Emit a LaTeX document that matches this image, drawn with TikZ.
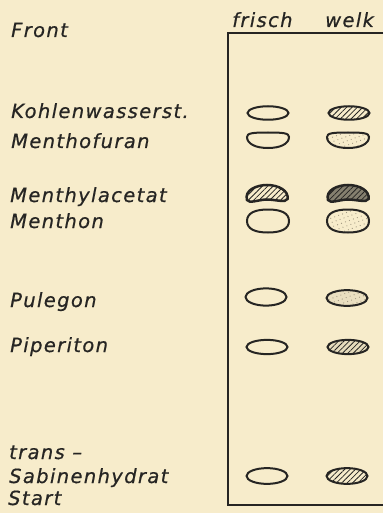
\documentclass[tikz,border=0pt]{standalone}
\usepackage{fontspec}
\setmainfont{DejaVu Sans}
\newfontfamily\labelfont[LetterSpace=7,FakeBold=0.6]{DejaVu Sans}
\usetikzlibrary{patterns.meta}
\definecolor{paper}{HTML}{F7ECCB}
\definecolor{ink}{HTML}{262523}
\definecolor{dotc}{HTML}{9E957F}
\definecolor{darkspot}{HTML}{85806F}
\tikzset{
  x=1pt, y=1pt,
  lab/.style={anchor=base west, inner sep=0pt, text=ink,
    font=\labelfont\itshape\fontsize{19.5}{22}\selectfont},
  spotline/.style={draw=ink, line width=2pt},
  heavyline/.style={draw=ink, line width=2.5pt},
  hatch/.style={pattern={Lines[angle=45,distance=3.8pt,line width=0.8pt]}, pattern color=ink},
  speckle/.style={pattern={Dots[distance=4.2pt,radius=0.6pt,angle=20]}, pattern color=dotc},
  frameline/.style={draw=ink, line width=1.6pt},
  ovalspot/.pic={
    \fill[#1] (0,0) ellipse[x radius=20.5pt, y radius=7.5pt];
    \path[pic actions] (0,0) ellipse[x radius=20.5pt, y radius=7.5pt];},
  dspot/.pic={
    \fill[#1] (-21,3) .. controls (-21,7) and (-15,7.5) .. (0,7.5) .. controls (15,7.5) and (21,7) .. (21,3)
      .. controls (21,-4) and (12,-8) .. (0,-8) .. controls (-12,-8) and (-21,-4) .. (-21,3) -- cycle;
    \path[pic actions] (-21,3) .. controls (-21,7) and (-15,7.5) .. (0,7.5) .. controls (15,7.5) and (21,7) .. (21,3)
      .. controls (21,-4) and (12,-8) .. (0,-8) .. controls (-12,-8) and (-21,-4) .. (-21,3) -- cycle;},
  kidney/.pic={
    \fill[#1] (-20,-6) .. controls (-23,4) and (-10,9) .. (0,9) .. controls (12,9) and (22,3) .. (20.5,-5)
      .. controls (19,-9) and (8,-5.5) .. (0,-5.5) .. controls (-8,-5.5) and (-18,-10) .. (-20,-6) -- cycle;
    \path[pic actions] (-20,-6) .. controls (-23,4) and (-10,9) .. (0,9) .. controls (12,9) and (22,3) .. (20.5,-5)
      .. controls (19,-9) and (8,-5.5) .. (0,-5.5) .. controls (-8,-5.5) and (-18,-10) .. (-20,-6) -- cycle;},
  blob/.pic={
    \fill[#1] (21,0) .. controls (21,8) and (13,11.5) .. (0,11.5) .. controls (-13,11.5) and (-21,8) .. (-21,0)
      .. controls (-21,-8) and (-13,-11.5) .. (0,-11.5) .. controls (13,-11.5) and (21,-8) .. (21,0) -- cycle;
    \path[pic actions] (21,0) .. controls (21,8) and (13,11.5) .. (0,11.5) .. controls (-13,11.5) and (-21,8) .. (-21,0)
      .. controls (-21,-8) and (-13,-11.5) .. (0,-11.5) .. controls (13,-11.5) and (21,-8) .. (21,0) -- cycle;},
}
\begin{document}
\begin{tikzpicture}
\useasboundingbox (0,0) rectangle (383,-513);
\fill[paper] (0,0) rectangle (383,-513);

% frame
\coordinate (tr) at (383,-33);
\coordinate (tl) at (228,-33);
\coordinate (bl) at (228,-505);
\coordinate (br) at (383,-505);
\draw[frameline] (tr) -- (tl) -- (bl) -- (br);

% headers
\node[lab] (hfrisch) at (232,-27) {frisch};
\node[lab] (hwelk) at (325,-27) {welk};

% labels
\node[lab] (front) at (11,-37) {Front};
\node[lab] (kw) at (11,-118) {Kohlenwasserst.};
\node[lab] (mf) at (11,-148) {Menthofuran};
\node[lab] (ma) at (10,-202) {Menthylacetat};
\node[lab] (mn) at (10,-228) {Menthon};
\node[lab] (pu) at (10,-307) {Pulegon};
\node[lab] (pi) at (10,-352) {Piperiton};
\node[lab] (tr1) at (9,-459) {trans –};
\node[lab] (sh) at (9,-483) {Sabinenhydrat};
\node[lab] (st) at (8,-505) {Start};

% spots
\pic[spotline, yscale=0.9] (kwF) at (268,-113) {ovalspot=paper};
\pic[spotline, hatch, yscale=0.9] (kwW) at (349,-113) {ovalspot=paper};

\pic[spotline] (mfF) at (268,-140) {dspot=paper};
\pic[spotline, speckle] (mfW) at (348,-140) {dspot=paper};

\pic[heavyline, hatch] (maF) at (267,-194) {kidney=paper};
\pic[heavyline, hatch] (maW) at (348,-194) {kidney=darkspot};

\pic[spotline] (mnF) at (268,-221) {blob=paper};
\pic[spotline, speckle] (mnW) at (348,-221) {blob=paper};

\pic[spotline, yscale=1.15] (puF) at (266,-297) {ovalspot=paper};
\pic[spotline, speckle, yscale=1.05] (puW) at (347,-298) {ovalspot=paper!85!dotc};

\pic[spotline, yscale=0.95] (piF) at (267,-347) {ovalspot=paper};
\pic[spotline, hatch, yscale=0.95] (piW) at (348,-347) {ovalspot=paper!80!dotc};

\pic[spotline, yscale=1.05] (shF) at (267,-476) {ovalspot=paper};
\pic[spotline, hatch, yscale=1.05] (shW) at (347,-476) {ovalspot=paper};
\end{tikzpicture}
\end{document}
